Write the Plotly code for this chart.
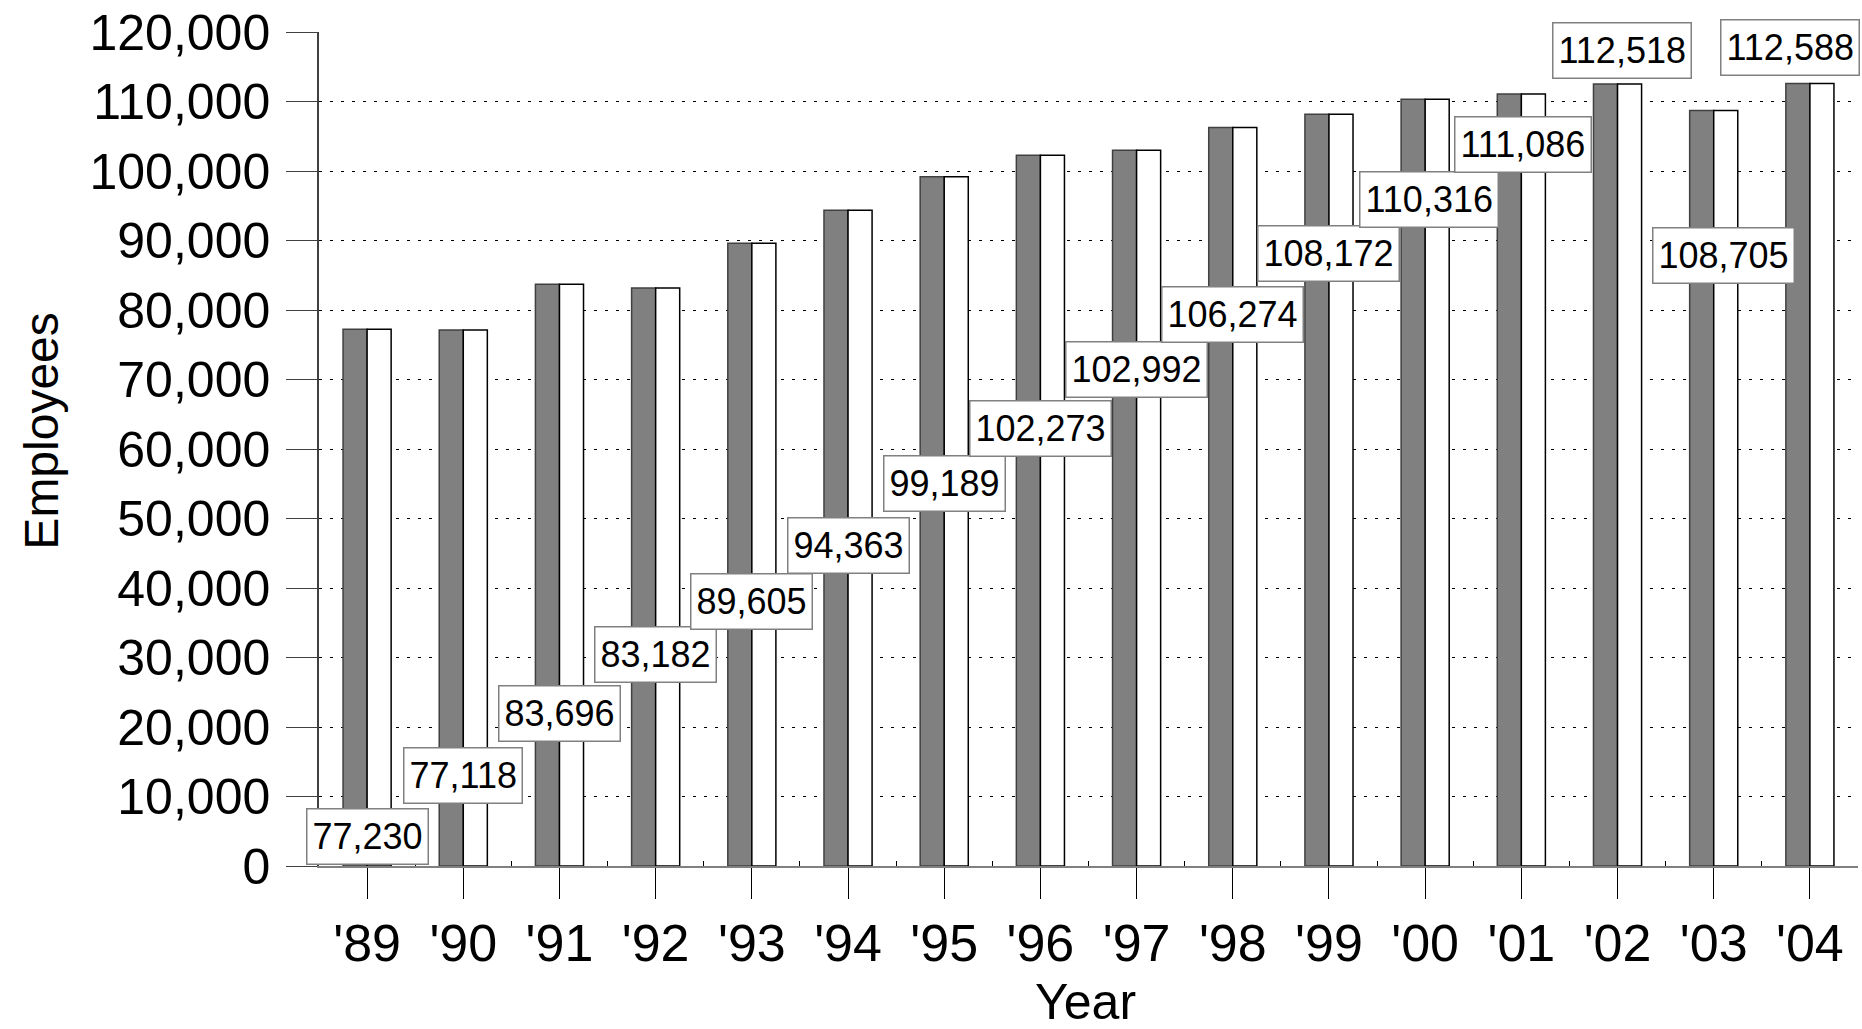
import plotly.graph_objects as go

years = ["'89", "'90", "'91", "'92", "'93", "'94", "'95", "'96",
         "'97", "'98", "'99", "'00", "'01", "'02", "'03", "'04"]
employees = [77230, 77118, 83696, 83182, 89605, 94363, 99189, 102273,
             102992, 106274, 108172, 110316, 111086, 112518, 108705, 112588]
# vertical placement of the value boxes (data units) and horizontal nudges (px)
label_y = [4300, 13000, 22000, 30400, 38100, 46100, 55000, 63000,
           71500, 79400, 88100, 95900, 103800, 117400, 87900, 117800]
label_xshift = [0, 0, 0, 0, 0, 0, 0, 0, 0, 0, 0, 4, 2, 4, 10, -20]

FONT = "Liberation Sans, Arial, sans-serif"

fig = go.Figure()
fig.add_trace(go.Bar(x=years, y=employees, marker=dict(color="#808080", line=dict(color="#404040", width=1.5)),
                     showlegend=False, hoverinfo="x+y"))
fig.add_trace(go.Bar(x=years, y=employees, marker=dict(color="#ffffff", line=dict(color="#000000", width=1.5)),
                     showlegend=False, hoverinfo="x+y"))

# minor ticks at category boundaries (overlay axis)
fig.add_trace(go.Scatter(x=[-0.5, 15.5], y=[None, None], xaxis="x2", yaxis="y",
                         showlegend=False, hoverinfo="skip"))

annotations = []
for i, (yr, v) in enumerate(zip(years, employees)):
    annotations.append(dict(
        x=yr, y=label_y[i], xref="x", yref="y", text=f"{v:,}",
        showarrow=False, xshift=label_xshift[i], height=44,
        font=dict(family=FONT, size=36, color="black"),
        bgcolor="white", bordercolor="#808080", borderwidth=1.5, borderpad=5,
    ))
annotations.append(dict(text="Employees", x=-0.18, y=0.522, xref="paper", yref="paper",
                        textangle=-90, showarrow=False, xanchor="center", yanchor="middle",
                        font=dict(family=FONT, size=48, color="black")))
annotations.append(dict(text="Year", x=0.498, y=-0.163, xref="paper", yref="paper",
                        showarrow=False, xanchor="center", yanchor="middle",
                        font=dict(family=FONT, size=50, color="black")))

fig.update_layout(
    width=1862, height=1029,
    margin=dict(l=319, r=4, t=32, b=163),
    paper_bgcolor="white", plot_bgcolor="white",
    barmode="group", bargap=0.5, bargroupgap=0,
    font=dict(family=FONT, color="black"),
    annotations=annotations,
    xaxis=dict(type="category", categoryorder="array", categoryarray=years,
               range=[-0.5, 15.5],
               ticks="outside", ticklen=31, tickwidth=1.2, tickcolor="black",
               tickfont=dict(family=FONT, size=52, color="black"),
               ticklabelstandoff=0,
               showline=True, linecolor="#808080", linewidth=2,
               showgrid=False, zeroline=False),
    xaxis2=dict(overlaying="x", range=[-0.5, 15.5],
                tickmode="array", tickvals=[i + 0.5 for i in range(15)] + [15.5],
                ticks="inside", ticklen=5, tickcolor="black", tickwidth=1,
                showticklabels=False, showgrid=False, zeroline=False, showline=False,
                side="bottom", anchor="y"),
    yaxis=dict(range=[0, 120000], dtick=10000, tickformat=",",
               ticks="outside", ticklen=31, tickwidth=1.2, tickcolor="#404040",
               tickfont=dict(family=FONT, size=50, color="black"),
               ticklabelstandoff=6,
               showline=True, linecolor="#404040", linewidth=1.5,
               showgrid=True, gridcolor="black", gridwidth=1, griddash="3px,8px",
               zeroline=False),
)

fig.write_html("out.html", config={"displayModeBar": False},
               post_script="document.body.style.margin='0';document.body.style.overflow='hidden';")
